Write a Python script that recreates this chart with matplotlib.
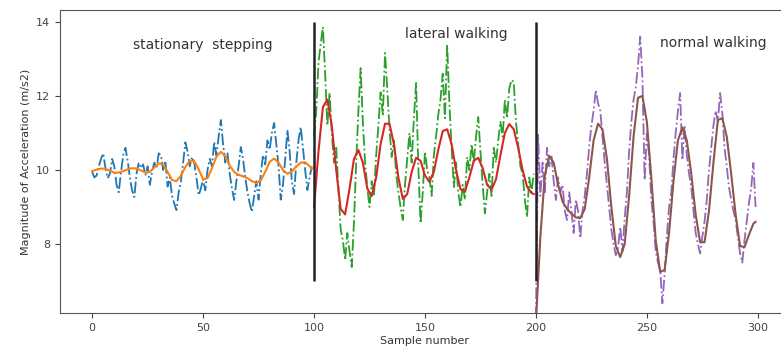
import matplotlib
matplotlib.use('Agg')
import matplotlib.pyplot as plt
import numpy as np

# raw magnitude, samples 0-99 (stationary stepping)
stepping_raw = [
    9.95, 9.80, 9.85, 10.10, 10.30, 10.45, 10.05, 9.78, 9.90, 10.30,
    10.10, 9.60, 9.40, 9.95, 10.40, 10.60, 10.25, 9.80, 9.45, 9.27,
    9.90, 10.20, 10.05, 10.15, 9.85, 10.10, 9.60, 9.95, 10.20, 10.05,
    10.45, 10.40, 10.00, 10.25, 9.55, 9.80, 9.30, 9.10, 8.92, 9.40,
    9.70, 10.20, 10.75, 10.50, 10.10, 10.35, 10.20, 9.80, 9.32, 9.50,
    9.75, 9.45, 10.00, 10.30, 10.10, 10.76, 10.40, 10.90, 11.35, 10.70,
    10.20, 10.45, 9.90, 9.50, 9.19, 9.70, 10.10, 10.62, 10.30, 9.80,
    9.40, 9.10, 8.87, 9.30, 9.70, 9.20, 9.90, 10.40, 10.15, 10.80,
    10.55, 11.00, 11.27, 10.70, 10.10, 9.20, 9.60, 10.30, 11.08, 10.50,
    9.70, 9.35, 10.20, 10.80, 11.16, 10.60, 10.00, 9.46, 9.80, 10.10,
]
# raw magnitude, samples 100-199 (lateral walking)
lateral_raw = [
    10.90, 11.60, 12.90, 13.40, 13.86, 12.60, 11.20, 12.08, 11.00, 10.20,
    10.60, 9.50, 8.40, 8.10, 7.57, 8.30, 7.80, 7.38, 8.60, 10.20,
    11.60, 12.75, 11.30, 10.20, 9.54, 9.00, 9.70, 9.30, 10.40, 11.20,
    12.10, 11.50, 13.16, 12.20, 11.10, 10.35, 10.80, 9.90, 9.40, 9.00,
    8.65, 9.60, 10.30, 11.00, 10.20, 11.40, 12.35, 10.10, 8.56, 9.40,
    10.50, 10.00, 9.80, 9.30, 10.40, 10.90, 11.50, 11.90, 12.60, 11.40,
    13.38, 11.80, 10.60, 9.54, 10.20, 9.40, 9.00, 9.60, 9.20, 10.35,
    10.00, 10.70, 10.20, 10.90, 11.43, 10.50, 9.60, 8.83, 9.40, 9.90,
    9.30, 10.60, 10.20, 10.80, 11.30, 10.90, 11.90, 11.40, 12.20, 12.43,
    12.38, 11.30, 10.70, 10.10, 9.90, 9.20, 8.73, 9.80, 9.40, 9.90,
]
# raw magnitude, samples 200-299 (normal walking)
normal_raw = [
    6.00, 10.95, 9.30, 10.20, 9.40, 10.60, 10.10, 10.40, 9.70, 9.19,
    9.80, 9.40, 9.60, 8.90, 8.65, 9.40, 8.90, 8.30, 9.20, 8.90,
    8.16, 8.90, 9.30, 9.90, 10.62, 11.20, 11.60, 12.16, 11.80, 11.60,
    10.90, 10.19, 9.60, 9.00, 8.40, 8.00, 7.70, 7.90, 8.46, 7.80,
    8.70, 9.40, 10.50, 11.30, 11.90, 12.24, 12.80, 13.60, 12.50, 9.73,
    11.00, 10.40, 9.20, 8.60, 7.80, 7.50, 7.30, 6.40, 7.20, 8.20,
    9.00, 9.38, 10.30, 11.00, 11.60, 12.08, 10.27, 11.20, 10.40, 9.90,
    9.54, 8.90, 8.30, 8.00, 7.75, 8.20, 8.60, 9.20, 10.00, 10.60,
    11.20, 11.60, 11.30, 12.08, 11.54, 10.60, 10.10, 9.54, 9.20, 8.90,
    8.65, 8.20, 7.75, 7.50, 8.10, 8.60, 9.10, 9.50, 10.19, 9.00,
]

# filtered curves, every second sample
stepping_fx = list(range(0, 100, 2)) + [99]
stepping_smooth = [
    9.97, 10.01, 10.04, 10.03, 9.98, 9.93, 9.93, 9.97, 10.02, 10.05,
    10.04, 9.99, 9.93, 9.95, 10.07, 10.18, 10.15, 9.95, 9.73, 9.70,
    9.85, 10.08, 10.25, 10.24, 10.02, 9.75, 9.78, 10.05, 10.36, 10.49,
    10.38, 10.12, 9.95, 9.87, 9.83, 9.78, 9.70, 9.65, 9.72, 9.95,
    10.22, 10.31, 10.20, 10.00, 9.90, 9.96, 10.10, 10.20, 10.21, 10.10,
    10.03,
]
lateral_fx = list(range(100, 200, 2)) + [199]
lateral_smooth = [
    9.00, 10.50, 11.70, 11.90, 11.20, 10.00, 8.95, 8.80, 9.50, 10.30,
    10.54, 10.20, 9.50, 9.30, 9.80, 10.70, 11.25, 11.25, 10.70, 9.80,
    9.22, 9.35, 9.95, 10.33, 10.25, 9.85, 9.68, 9.95, 10.55, 11.05,
    11.10, 10.70, 10.00, 9.48, 9.42, 9.80, 10.25, 10.33, 10.05, 9.60,
    9.47, 9.75, 10.40, 11.00, 11.24, 11.10, 10.60, 10.00, 9.55, 9.38,
    9.35,
]
normal_fx = list(range(200, 300, 2)) + [299]
normal_smooth = [
    5.90, 8.20, 9.85, 10.38, 10.20, 9.60, 9.15, 8.95, 8.82, 8.72,
    8.70, 8.95, 9.80, 10.80, 11.25, 11.10, 10.30, 9.00, 7.95, 7.65,
    8.00, 9.30, 10.90, 11.95, 12.00, 11.30, 9.80, 8.10, 7.25, 7.30,
    8.30, 9.70, 10.80, 11.15, 10.80, 9.90, 8.80, 8.05, 8.05, 8.90,
    10.20, 11.35, 11.40, 10.90, 9.90, 8.80, 7.95, 7.92, 8.25, 8.55,
    8.60,
]

segment_bounds = [100, 200]
activity_labels = ['stationary  stepping', 'lateral walking', 'normal walking']

fig = plt.figure(figsize=(7.81, 3.54), dpi=100)
ax = fig.add_axes([0.0768, 0.1158, 0.9347, 0.856])

ax.plot(np.arange(0, 100), stepping_raw, '-.', color='#1f77b4', lw=1.3)
ax.plot(stepping_fx, stepping_smooth, '-', color='#ff7f0e', lw=1.5)
ax.plot(np.arange(100, 200), lateral_raw, '-.', color='#2ca02c', lw=1.3)
ax.plot(lateral_fx, lateral_smooth, '-', color='#d62728', lw=1.5)
ax.plot(np.arange(200, 300), normal_raw, '-.', color='#9467bd', lw=1.3)
ax.plot(normal_fx, normal_smooth, '-', color='#8c564b', lw=1.5)

ax.vlines(segment_bounds, 7.0, 14.0, colors='#222222', lw=1.8)

ax.text(50, 13.38, activity_labels[0], ha='center', va='center', fontsize=10, color='#333333')
ax.text(164, 13.68, activity_labels[1], ha='center', va='center', fontsize=10, color='#333333')
ax.text(280, 13.43, activity_labels[2], ha='center', va='center', fontsize=10, color='#333333')

ax.set_xlim(-14.5, 314.5)
ax.set_ylim(6.14, 14.32)
ax.set_xticks([0, 50, 100, 150, 200, 250, 300])
ax.set_yticks([8, 10, 12, 14])
ax.tick_params(labelsize=8, colors='#444444')
ax.set_xlabel('Sample number', fontsize=8, color='#333333', labelpad=2)
ax.set_ylabel('Magnitude of Acceleration (m/s2)', fontsize=8, color='#333333')
for s in ax.spines.values():
    s.set_color('#555555')

fig.savefig('out.png', dpi=100)
